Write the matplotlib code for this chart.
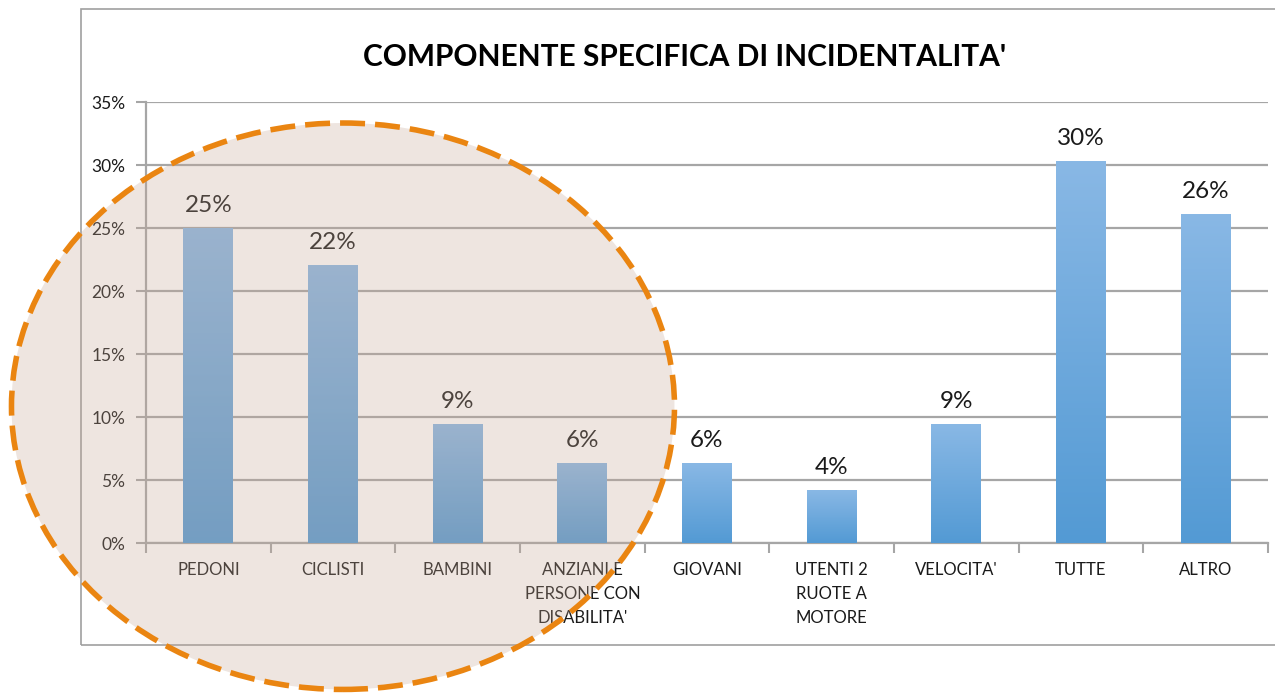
import matplotlib
matplotlib.use("Agg")
import matplotlib.pyplot as plt
import matplotlib.patches as mpatches
from matplotlib.colors import LinearSegmentedColormap
import numpy as np

plt.rc('font', family=['Lato', 'DejaVu Sans'])

categories = ["PEDONI", "CICLISTI", "BAMBINI", "ANZIANI E\nPERSONE CON\nDISABILITA'",
              "GIOVANI", "UTENTI 2\nRUOTE A\nMOTORE", "VELOCITA'", "TUTTE", "ALTRO"]
values = [25.0, 22.0, 9.4, 6.3, 6.3, 4.2, 9.4, 30.3, 26.1]
yticks = [0, 5, 10, 15, 20, 25, 30, 35]
title = "COMPONENTE SPECIFICA DI INCIDENTALITA'"

grid_col = '#a6a6a6'
bar_cmap = LinearSegmentedColormap.from_list('bar', ['#539ad4', '#89b8e5'])

fig = plt.figure(figsize=(12.75, 6.95), dpi=100)
ax = fig.add_axes([0.1145, 0.2187, 0.88, 0.6345])

x = np.arange(len(categories))
bars = ax.bar(x, values, width=0.4, color='none', zorder=3)

# vertical gradient fill for each bar
grad = np.linspace(0, 1, 256).reshape(-1, 1)
for b in bars:
    bx, bw, bh = b.get_x(), b.get_width(), b.get_height()
    ax.imshow(grad, extent=[bx, bx + bw, 0, bh], origin='lower', aspect='auto',
              cmap=bar_cmap, zorder=3)

for xi, v in zip(x, values):
    ax.annotate(f"{v:.0f}%", (xi, v), xytext=(0, 9), textcoords='offset points',
                ha='center', va='bottom', fontsize=17.5, color='#1a1a1a', zorder=4)

ax.set_xlim(-0.5, len(categories) - 0.5)
ax.set_ylim(0, 35)
ax.set_yticks(yticks)
ax.set_yticklabels([f"{t}%" for t in yticks], fontsize=12.5, color='#1a1a1a')
ax.yaxis.grid(True, color=grid_col, lw=1.6, zorder=0)
ax.set_axisbelow(True)

ax.set_xticks(x)
ax.set_xticklabels(categories, fontsize=12, color='#1a1a1a', linespacing=1.6, va='top')
ax.set_xticks(np.arange(-0.5, len(categories)), minor=True)
ax.tick_params(axis='x', which='major', length=0, pad=14)
ax.tick_params(axis='x', which='minor', length=7, width=1.5, color=grid_col)
ax.tick_params(axis='y', length=7, width=1.5, color=grid_col, pad=8)

for s in ['top', 'right']:
    ax.spines[s].set_visible(False)
for s in ['left', 'bottom']:
    ax.spines[s].set_color(grid_col)
    ax.spines[s].set_linewidth(1.6)

fig.text(0.537, 0.918, title, ha='center', va='center', fontsize=21.5,
         fontweight='bold', color='black')

# chart frame
fig.patches.append(mpatches.Rectangle((0.0635, 0.072), 1.0, 0.915, transform=fig.transFigure,
                                      fill=False, edgecolor='#a0a0a0', lw=1.2))

# highlighted group
fig.patches.append(mpatches.Ellipse((0.269, 0.4155), 0.52, 0.815, transform=fig.transFigure,
                                    facecolor=(0.78, 0.66, 0.59, 0.29), edgecolor='#ea8511',
                                    lw=4, linestyle=(0, (4.5, 1.8)), zorder=10))

fig.savefig('out.png', dpi=100)
